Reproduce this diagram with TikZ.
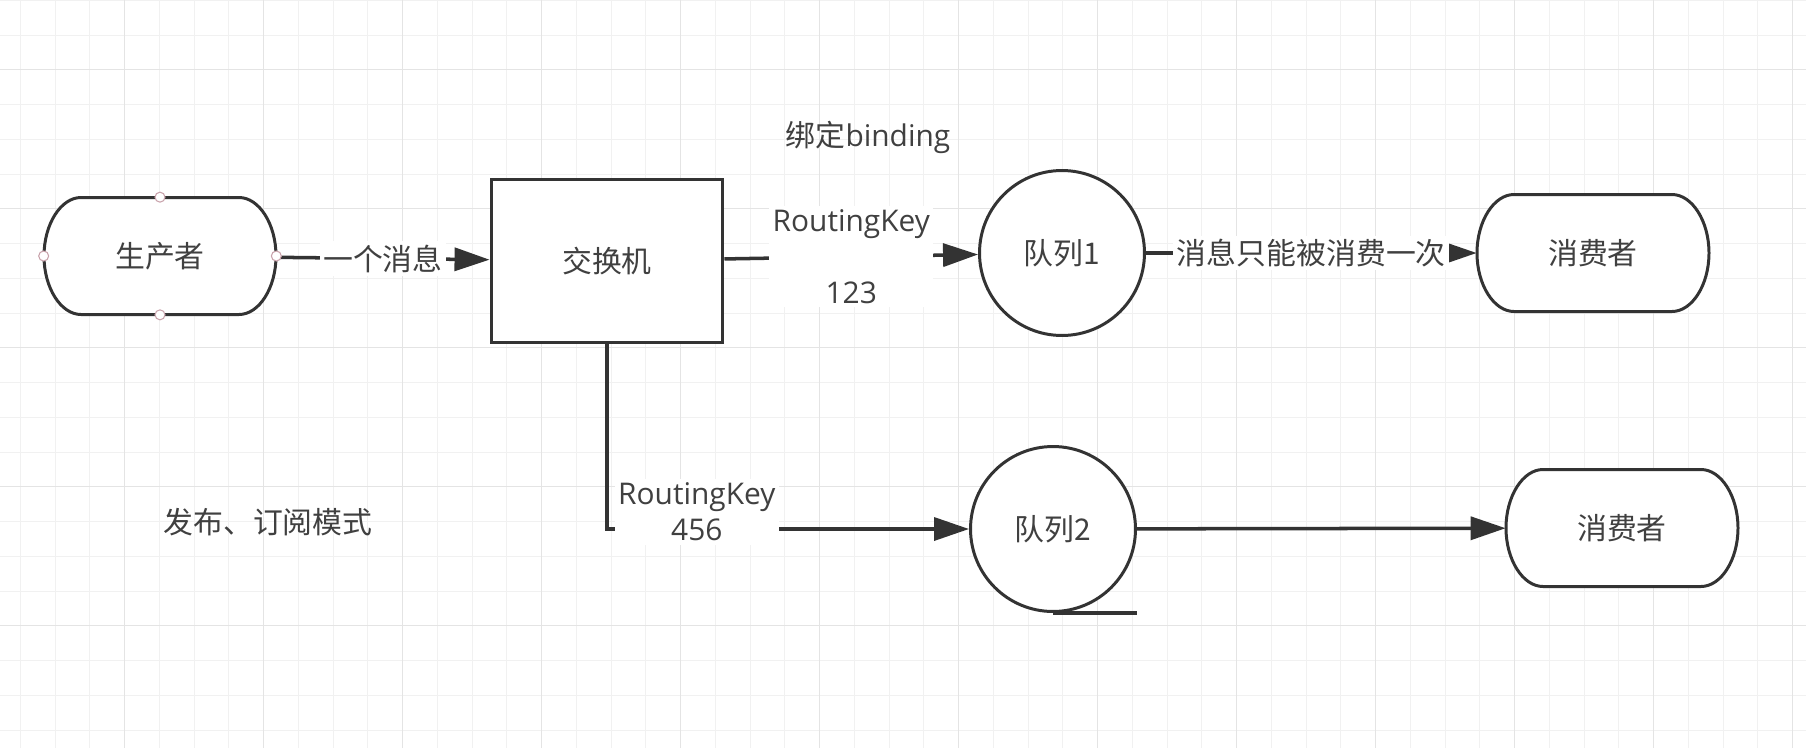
\documentclass[tikz,border=0pt]{standalone}
\usepackage{fontspec}
\setmainfont{Open Sans}
\newfontfamily\cjk{Noto Sans CJK SC}
\usetikzlibrary{arrows.meta}
\definecolor{ln}{HTML}{333333}
\definecolor{tx}{HTML}{404040}
\definecolor{gridminor}{HTML}{F1F1F1}
\definecolor{gridmajor}{HTML}{E4E4E4}
\definecolor{pt}{HTML}{C9A3AC}
\tikzset{
  txt/.style={text=tx, font=\fontsize{17}{20.5}\selectfont},
  shapeline/.style={draw=ln, line width=1.7pt},
  term/.style={txt, minimum width=4.64cm, minimum height=2.34cm},
  box/.style={txt, shapeline, fill=white,
    minimum width=4.64cm, minimum height=3.26cm},
  queue/.style={txt, shapeline, fill=white, circle,
    minimum size=3.3cm, inner sep=0pt},
  lbl/.style={txt, fill=white, inner sep=2pt, align=center},
  conn/.style={draw=ln, line width=2pt, -{Triangle[length=0.7cm, width=0.46cm]}},
}
\newcommand\termshape[1]{%
  \draw[shapeline, fill=white] #1 ++(-79,-58.5) -- ++(158,0)
    .. controls +(20,0) and +(0,-32) .. ++(37,58.5)
    .. controls +(0,32) and +(20,0) .. ++(-37,58.5) -- ++(-158,0)
    .. controls +(-20,0) and +(0,32) .. ++(-37,-58.5)
    .. controls +(0,-32) and +(-20,0) .. ++(37,-58.5) -- cycle;}
\begin{document}
\begin{tikzpicture}[x=0.02cm, y=-0.02cm]
  \fill[white] (0,0) rectangle (1806,748);
  \useasboundingbox (0,0) rectangle (1806,748);
  \foreach \k [evaluate=\k as \x using 20.2+34.75*\k] in {0,...,51}
    \draw[gridminor, line width=0.5pt] (\x,0) -- (\x,748);
  \foreach \k [evaluate=\k as \y using 0.2+34.75*\k] in {0,...,21}
    \draw[gridminor, line width=0.5pt] (0,\y) -- (1806,\y);
  \foreach \k [evaluate=\k as \x using 124.4+139*\k] in {0,...,12}
    \draw[gridmajor, line width=0.6pt] (\x,0) -- (\x,748);
  \foreach \k [evaluate=\k as \y using 69.7+139*\k] in {0,...,4}
    \draw[gridmajor, line width=0.6pt] (0,\y) -- (1806,\y);

  \termshape{(160,256)}
  \termshape{(1593,253)}
  \termshape{(1622,528)}

  \node[term] (prod) at (160,256) {\cjk 生产者};
  \node[box] (exch) at (607,261) {\cjk 交换机};
  \node[queue] (q1) at (1062,253) {\cjk 队列1};
  \node[term] (cons1) at (1593,253) {\cjk 消费者};
  \node[queue] (q2) at (1053,529) {\cjk 队列2};
  \node[term] (cons2) at (1622,528) {\cjk 消费者};
  \node[txt] (bind) at (868,137) {{\cjk 绑定}binding};
  \node[txt] (mode) at (268,522) {\cjk 发布、订阅模式};

  \draw[conn] (prod) -- node[lbl] {\cjk 一个消息} (exch);
  \draw[conn] (exch) -- node[lbl] {RoutingKey\\[20.5pt]123} (q1);
  \draw[conn] (q1) -- node[lbl] {\cjk 消息只能被消费一次} (cons1);
  \draw[conn] (exch) |- node[lbl, pos=0.624, yshift=0.34cm] {RoutingKey\\456} (q2);
  \draw[conn] (q2) -- (cons2);
  \draw[ln, line width=2.2pt] (q2.south) -- (q2.south -| q2.east);

  \foreach \a in {north,south,east,west}
    \draw[pt, fill=white, line width=0.6pt] (prod.\a) circle (5);
\end{tikzpicture}
\end{document}
